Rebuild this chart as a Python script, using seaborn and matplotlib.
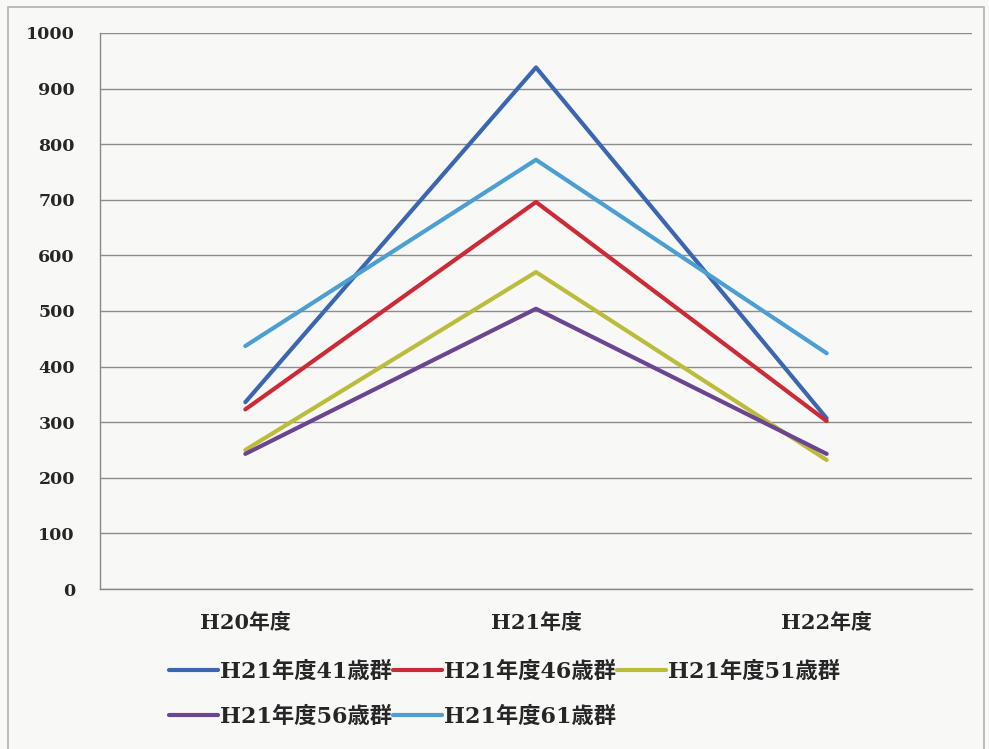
import pandas as pd
import seaborn as sns
import matplotlib.pyplot as plt
from matplotlib.patches import Rectangle

# Daten
jahre = ["H20年度", "H21年度", "H22年度"]
gruppen = ["H21年度41歳群", "H21年度46歳群", "H21年度51歳群", "H21年度56歳群", "H21年度61歳群"]
werte_41 = [336, 938, 307]
werte_46 = [323, 696, 302]
werte_51 = [250, 570, 232]
werte_56 = [243, 504, 243]
werte_61 = [437, 772, 424]
farben = ["#3a67b0", "#cc2a36", "#bcbc3c", "#6a4592", "#4c9fd3"]

rows = []
for g, w in zip(gruppen, [werte_41, werte_46, werte_51, werte_56, werte_61]):
    for j, v in zip(jahre, w):
        rows.append({"Jahr": j, "Gruppe": g, "Wert": v})
df = pd.DataFrame(rows)

sns.set_theme(style="white")
plt.rcParams["font.family"] = ["DejaVu Serif", "Noto Sans CJK JP"]

fig = plt.figure(figsize=(9.89, 7.49), dpi=100, facecolor="#f8f8f6")
ax = fig.add_axes([0.1011, 0.2136, 0.8817, 0.7424])
ax.set_facecolor("#f8f8f6")

# Rahmen um das ganze Diagramm
fig.patches.append(Rectangle((0.008, -0.01), 0.987, 1.0, transform=fig.transFigure,
                             fill=False, edgecolor="#b0b0b0", linewidth=1.2))

sns.lineplot(data=df, x="Jahr", y="Wert", hue="Gruppe", palette=farben,
             linewidth=3.0, sort=False, ax=ax)

ax.set_xlim(-0.5, 2.5)
ax.set_ylim(0, 1000)
ax.set_yticks(range(0, 1001, 100))
ax.set_xticks([0, 1, 2])
ax.set_xticklabels(jahre, fontsize=15, fontweight="bold")
ax.set_xticks([-0.5, 0.5, 1.5, 2.5], minor=True)
ax.tick_params(axis="x", which="major", length=0, pad=17)
ax.tick_params(axis="x", which="minor", length=6, color="#888888", width=1, direction="out")
ax.tick_params(axis="y", length=5, color="#888888", width=1, direction="out", pad=13)
for lab in ax.get_yticklabels():
    lab.set_fontsize(12.5)
    lab.set_fontweight("bold")
ax.set_xlabel("")
ax.set_ylabel("")
ax.yaxis.grid(True, color="#8c8c8c", linewidth=1)
ax.set_axisbelow(True)
for s in ["top", "right"]:
    ax.spines[s].set_visible(False)
for s in ["left", "bottom"]:
    ax.spines[s].set_color("#888888")
    ax.spines[s].set_linewidth(1)

# Legende zeilenweise anordnen
handles, labels = ax.get_legend_handles_labels()
order = [0, 3, 1, 4, 2]
leg = ax.legend([handles[i] for i in order], [labels[i] for i in order],
                ncol=3, loc="center", bbox_to_anchor=(0.51, 0.073),
                bbox_transform=fig.transFigure, frameon=False,
                prop={"size": 16, "weight": "bold"},
                handlelength=2.2, handletextpad=0.1, columnspacing=0.05,
                labelspacing=1.05)

plt.savefig("out.png", dpi=100, facecolor=fig.get_facecolor())
